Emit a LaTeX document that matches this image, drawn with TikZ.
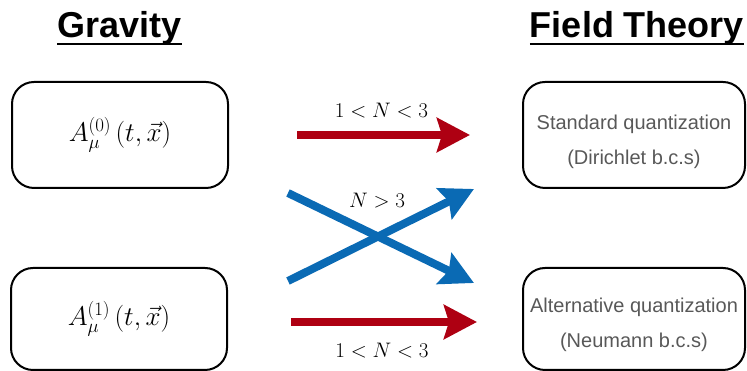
\RequirePackage{fix-cm}
\documentclass[tikz,border=0pt]{standalone}
\usepackage{fontspec}
\newfontfamily\headfont{Liberation Sans}
\usetikzlibrary{arrows.meta,calc}
\definecolor{arrred}{HTML}{AE0012}
\definecolor{arrblue}{HTML}{0A6AB4}
\definecolor{txtgray}{HTML}{585858}

\begin{document}
\begin{tikzpicture}[x=1pt,y=1pt]
\useasboundingbox (0,0) rectangle (747,371);
% titles
\node[inner sep=0, anchor=base, font=\headfont\bfseries\fontsize{36}{40}\selectfont] (tgrav) at (119.5,333){Gravity};
\node[inner sep=0, anchor=base, font=\headfont\bfseries\fontsize{36}{40}\selectfont] (tfth) at (637,333){Field Theory};
\draw[line width=2pt] ([yshift=-6pt]tgrav.base west) -- ([yshift=-6pt]tgrav.base east);
\draw[line width=2pt] ([yshift=-6pt]tfth.base west) -- ([yshift=-6pt]tfth.base east);

% boxes
\node[draw, line width=2pt, rounded corners=22pt, minimum width=216pt, minimum height=106pt, font=\fontsize{27}{32}\selectfont] (grav0) at (120,236){$A_\mu^{(0)}\,(t,\vec{x})$};
\node[draw, line width=2pt, rounded corners=22pt, minimum width=216pt, minimum height=102pt, font=\fontsize{27}{32}\selectfont] (grav1) at (119,52){$A_\mu^{(1)}\,(t,\vec{x})$};
\node[draw, line width=2pt, rounded corners=22pt, minimum width=222pt, minimum height=106pt,
  label={[align=center, text=txtgray, yshift=-7pt, font=\headfont\fontsize{20}{35}\selectfont]center:Standard quantization\\(Dirichlet b.c.s)}] (fth0) at (634,236){};
\node[draw, line width=2pt, rounded corners=22pt, minimum width=222pt, minimum height=102pt,
  label={[align=center, text=txtgray, yshift=-6pt, font=\headfont\fontsize{20}{35}\selectfont]center:Alternative quantization\\(Neumann b.c.s)}] (fth1) at (634,52){};

% arrows
\draw[arrred, line width=8pt, -{Stealth[length=33pt,width=34pt,inset=5pt]}, shorten <=68pt, shorten >=52pt] (grav0) -- (fth0) node[midway, above=13pt, inner sep=0, black, xshift=6pt, font=\fontsize{21}{24}\selectfont] (lbl0) {$1<N<3$};
\draw[arrred, line width=8pt, -{Stealth[length=33pt,width=34pt,inset=5pt]}, shorten <=63pt, shorten >=45pt] ([yshift=-3pt]grav1.east) -- ([yshift=-3pt]fth1.west) node[midway, below=17pt, inner sep=0, black, xshift=7pt, font=\fontsize{21}{24}\selectfont] (lbl1) {$1<N<3$};
\draw[arrblue, line width=8pt, -{Stealth[length=33pt,width=34pt,inset=5pt]}] ($(grav0.east)+(59,-58)$) -- ($(fth1.west)+(-48,36)$);
\draw[arrblue, line width=8pt, -{Stealth[length=33pt,width=34pt,inset=5pt]}] ($(grav1.east)+(60,38)$) -- ($(fth0.west)+(-48,-54)$);
\node[inner sep=0, font=\fontsize{21}{24}\selectfont] (lbl2) at (377,170){$N>3$};

\end{tikzpicture}
\end{document}
